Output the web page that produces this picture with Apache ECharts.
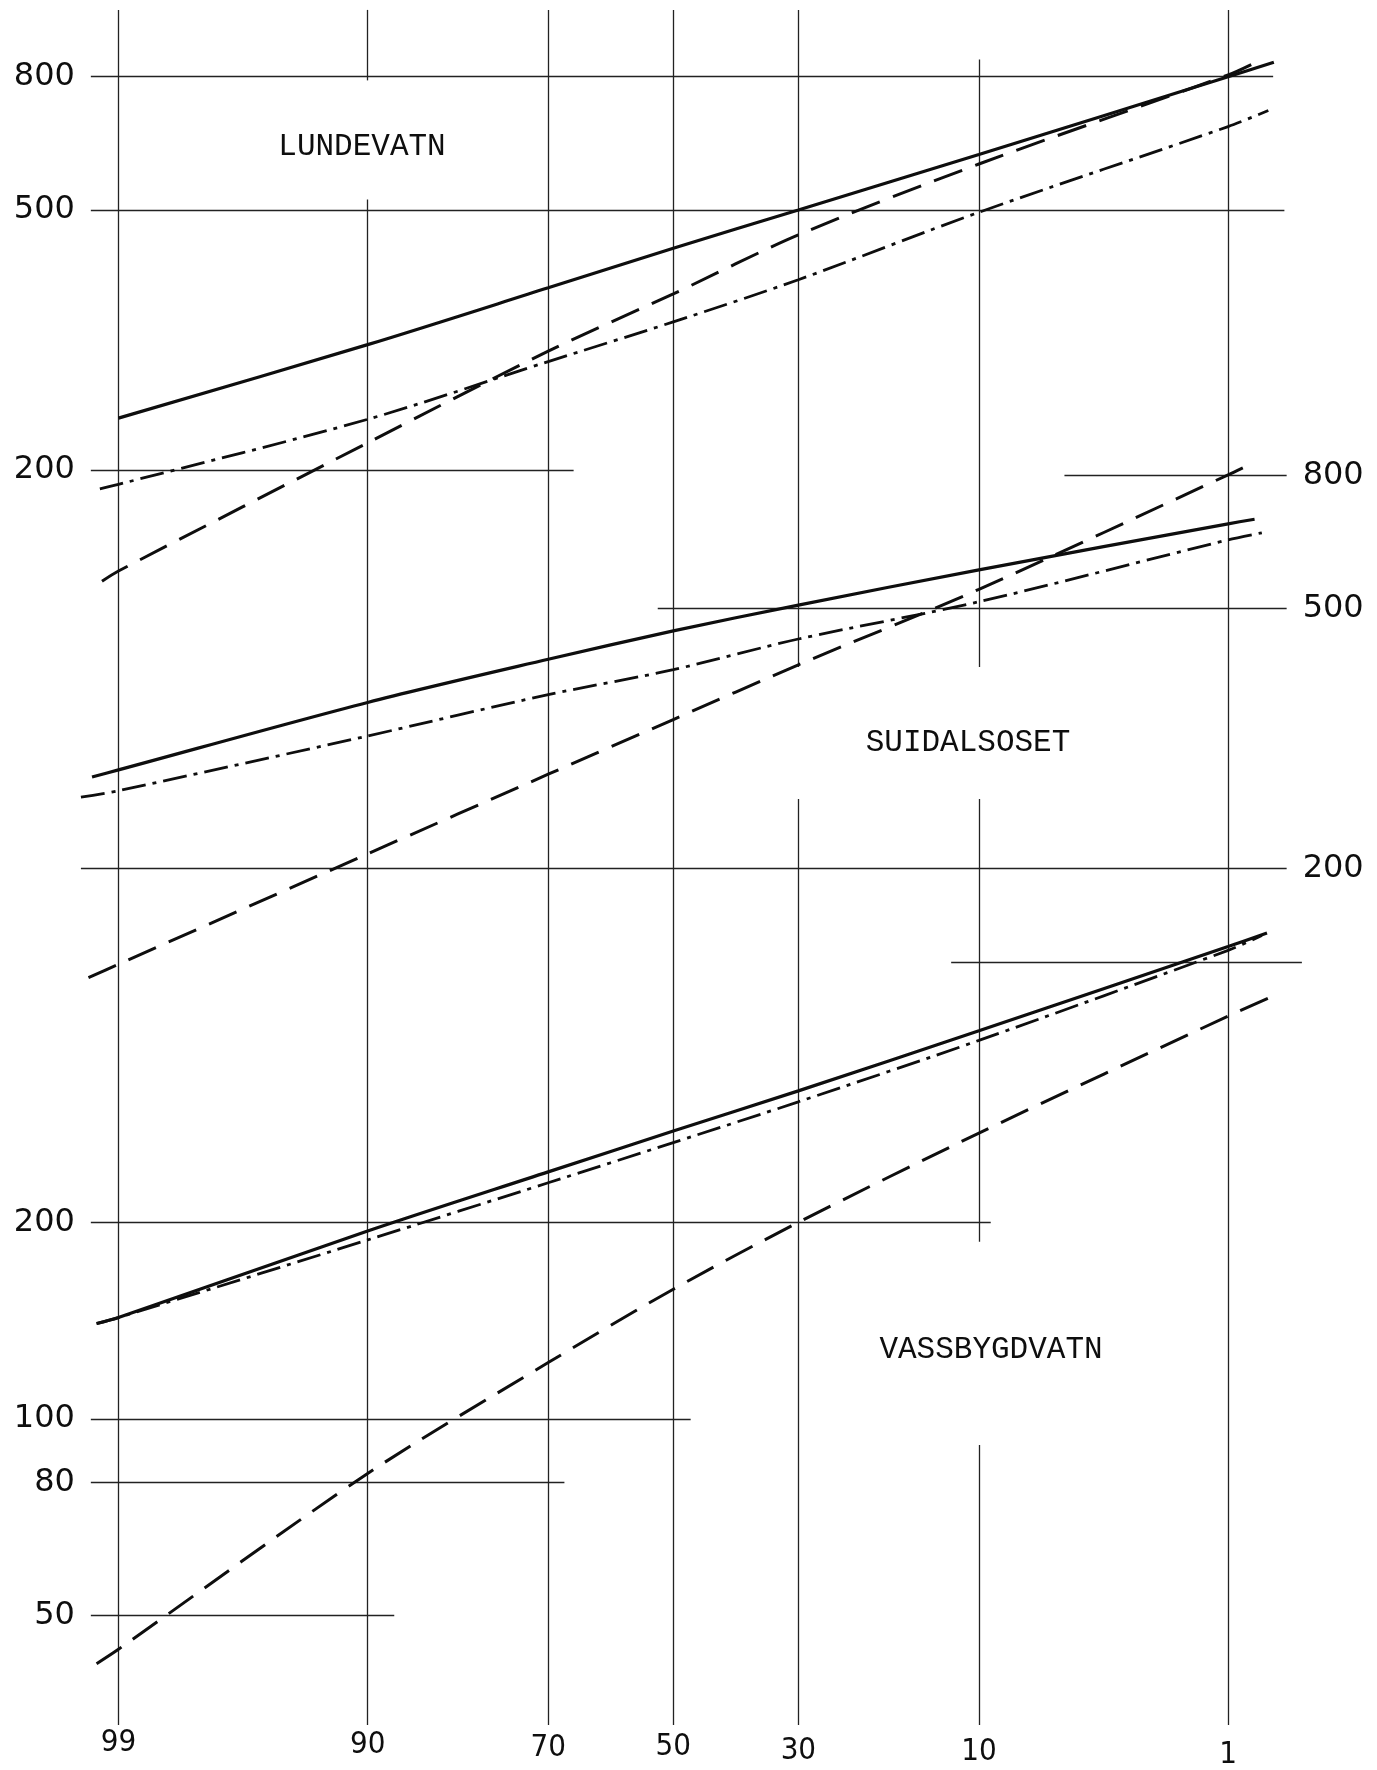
<!DOCTYPE html>
<html><head><meta charset="utf-8">
<script src="https://cdn.jsdelivr.net/npm/echarts@6/dist/echarts.min.js"></script>
<style>html,body{margin:0;padding:0;background:#fff}#c{width:1377px;height:1770px}</style>
</head><body><div id="c"></div>
<script>
// ================= DATA =================
// exceedance probability (%) tick marks on the probability axis
const xTickPct = [99, 90, 70, 50, 30, 10, 1];
const xTickLabels = ['99', '90', '70', '50', '30', '10', '1'];

// LUNDEVATN
const lundSolidPct = [99, 90, 70, 50, 30, 10, 1, 0.59];
const lundSolidVal = [240, 311, 380, 437, 500, 608, 800, 842];
const lundDashPct  = [99.17, 99, 90, 70, 50, 30, 10, 1, 0.71];
const lundDashVal  = [135, 140, 220, 304, 372, 458, 588, 805, 845];
const lundDotPct   = [99.19, 99, 90, 70, 50, 30, 10, 1, 0.63];
const lundDotVal   = [187, 190, 239, 293, 337, 391, 496, 671, 710];

// SUIDALSOSET
const suiSolidPct = [99.26, 99, 90, 70, 50, 30, 10, 1, 0.74];
const suiSolidVal = [276, 283, 359, 418, 462, 506, 573, 674, 685];
const suiDashPct  = [99.29, 99, 90, 70, 50, 30, 10, 1, 0.75];
const suiDashVal  = [136, 142.6, 210.5, 278.7, 338, 410, 535, 801, 836];
const suiDotPct   = [99.35, 99, 90, 70, 50, 30, 10, 1, 0.68];
const suiDotVal   = [257, 263, 319, 369, 403, 449, 512, 637, 653];

// VASSBYGDVATN
const vasSolidPct = [99.22, 99, 90, 70, 50, 30, 10, 1, 0.64];
const vasSolidVal = [140, 143, 194, 239, 276, 318, 393, 529, 555];
const vasDashPct  = [99.22, 99, 90, 70, 50, 30, 10, 1, 0.56];
const vasDashVal  = [42.2, 44.4, 82.5, 122, 158, 200, 274, 414, 448];
const vasDotPct   = [99.22, 99, 90, 70, 50, 30, 10, 1, 0.68];
const vasDotVal   = [140, 143, 188, 230, 265, 306, 380, 522, 550];

// y tick values of each panel
const lundTickVals = [800, 500, 200];
const suiTickVals  = [800, 500, 200];
const vasTickVals  = [500, 200, 100, 80, 50];
const vasTickShown = [false, true, true, true, true];

const panelNames = ['LUNDEVATN', 'SUIDALSOSET', 'VASSBYGDVATN'];

// ================= LAYOUT / STYLE =================
const W = 1377, H = 1770;
const L = { left: 80, rightEdge: 1310, top: 10, bottomEdge: 1740, cx: 673.3, pxPerZ: 238.5, pxPerDec: 653, frameH: 1738 };
const anchors = [ { ref: 800, y: 76.7 }, { ref: 800, y: 475.2 }, { ref: 200, y: 1222.4 } ];
// horizontal grid line extents, as exceedance % [from, to]
const lundSpans = [[99.27, 0.595], [99.27, 0.52], [99.27, 66.2]];
const suiSpans  = [[5.05, 0.506], [52.6, 0.506], [99.35, 0.506]];
const vasSpans  = [[12.2, 0.42], [99.27, 9.16], [99.27, 47.1], [99.27, 67.6], [99.27, 87.9]];
// vertical line pieces (frame pixel rows) for each tick
const vertPieces = [
  [[10, 1738]],
  [[10, 81], [201, 1738]],
  [[10, 1738]],
  [[10, 1738]],
  [[10, 672], [805, 1738]],
  [[60, 672], [805, 1251], [1456, 1738]],
  [[10, 1738]]
];
const labelDrop = [0, 2, 5, 4, 8, 9, 12];
const titlePos = [[362, 147], [968, 743], [991, 1350]];

const INK = '#0e0e0e';
const GRID_INK = '#222';

// inverse normal CDF (Acklam) – probability paper transform
function probit(p) {
  const a = [-3.969683028665376e+01, 2.209460984245205e+02, -2.759285104469687e+02, 1.383577518672690e+02, -3.066479806614716e+01, 2.506628277459239e+00];
  const b = [-5.447609879822406e+01, 1.615858368580409e+02, -1.556989798598866e+02, 6.680131188771972e+01, -1.328068155288572e+01];
  const c = [-7.784894002430293e-03, -3.223964580411365e-01, -2.400758277161838e+00, -2.549732539343734e+00, 4.374664141464968e+00, 2.938163982698783e+00];
  const d = [7.784695709041462e-03, 3.224671290700398e-01, 2.445134137142996e+00, 3.754408661907416e+00];
  const pl = 0.02425, ph = 1 - pl;
  let q, r;
  if (p < pl) { q = Math.sqrt(-2 * Math.log(p)); return (((((c[0]*q+c[1])*q+c[2])*q+c[3])*q+c[4])*q+c[5]) / ((((d[0]*q+d[1])*q+d[2])*q+d[3])*q+1); }
  if (p <= ph) { q = p - 0.5; r = q*q; return (((((a[0]*r+a[1])*r+a[2])*r+a[3])*r+a[4])*r+a[5])*q / (((((b[0]*r+b[1])*r+b[2])*r+b[3])*r+b[4])*r+1); }
  q = Math.sqrt(-2 * Math.log(1 - p)); return -(((((c[0]*q+c[1])*q+c[2])*q+c[3])*q+c[4])*q+c[5]) / ((((d[0]*q+d[1])*q+d[2])*q+d[3])*q+1);
}
const zOf = pct => probit(1 - pct / 100);
const pairs = (pcts, vals) => pcts.map((p, i) => [zOf(p), vals[i]]);

const zMin = (L.left - L.cx) / L.pxPerZ;
const zMax = (L.rightEdge - L.cx) / L.pxPerZ;
const gridH = L.bottomEdge - L.top;

const grids = [0, 1, 2].map(() => ({ left: L.left, right: W - L.rightEdge, top: L.top, height: gridH }));
grids.push({ left: L.left, right: W - L.rightEdge, top: 0, height: L.frameH });

const xAxes = [0, 1, 2].map(i => ({ type: 'value', gridIndex: i, min: zMin, max: zMax, show: false }));
const tickZ = xTickPct.map(zOf);
const rich = {};
labelDrop.forEach((d, i) => { rich['s' + i] = { fontSize: 31, fontFamily: "'Liberation Sans Narrow','DejaVu Sans Condensed',sans-serif", color: INK, padding: [d, 0, 0, 0] }; });
xAxes.push({
  type: 'value', gridIndex: 3, min: zMin, max: zMax,
  axisLine: { show: false }, axisTick: { show: false }, splitLine: { show: false },
  axisLabel: {
    show: true, margin: 2, customValues: tickZ, rich: rich, verticalAlign: 'top',
    formatter: v => { const i = tickZ.findIndex(t => Math.abs(t - v) < 1e-6); return i < 0 ? '' : '{s' + i + '|' + xTickLabels[i] + '}'; }
  }
});

const yAxes = anchors.map((a, i) => {
  const logMax = Math.log10(a.ref) + (a.y - L.top) / L.pxPerDec;
  const logMin = logMax - gridH / L.pxPerDec;
  return { type: 'log', logBase: 10, gridIndex: i, min: Math.pow(10, logMin), max: Math.pow(10, logMax), show: false };
});
yAxes.push({ type: 'value', gridIndex: 3, min: 0, max: L.frameH, inverse: true, show: false });

const solidStyle = { color: INK, width: 3.2, type: 'solid' };
const dashStyle = { color: INK, width: 3.0, type: [30, 14] };
const dotStyle = { color: INK, width: 2.8, type: [24, 7, 4, 7] };

function hLines(ticks, spans, shown, side) {
  return {
    silent: true, symbol: ['none', 'none'], animation: false,
    lineStyle: { color: GRID_INK, width: 1.3, type: 'solid' },
    label: { show: true, position: side, formatter: '{b}', distance: 16, color: INK, fontSize: 32, fontFamily: "'DejaVu Sans',sans-serif" },
    emphasis: { disabled: true },
    data: ticks.map((v, i) => [
      { name: (shown ? shown[i] : true) ? String(v) : '', coord: [zOf(spans[i][0]), v] },
      { coord: [zOf(spans[i][1]), v] }
    ])
  };
}

function lineSeries(idx, data, style, markLine) {
  const s = { type: 'line', xAxisIndex: idx, yAxisIndex: idx, data: data, showSymbol: false, symbol: 'none',
    smooth: 0.3, lineStyle: style, silent: true, animation: false, z: 5 };
  if (markLine) s.markLine = markLine;
  return s;
}

const vertData = [];
vertPieces.forEach((pieces, i) => pieces.forEach(pc => {
  vertData.push([{ coord: [tickZ[i], pc[0]] }, { coord: [tickZ[i], pc[1]] }]);
}));

const series = [
  lineSeries(0, pairs(lundSolidPct, lundSolidVal), solidStyle, hLines(lundTickVals, lundSpans, null, 'start')),
  lineSeries(0, pairs(lundDashPct, lundDashVal), dashStyle),
  lineSeries(0, pairs(lundDotPct, lundDotVal), dotStyle),
  lineSeries(1, pairs(suiSolidPct, suiSolidVal), solidStyle, hLines(suiTickVals, suiSpans, null, 'end')),
  lineSeries(1, pairs(suiDashPct, suiDashVal), dashStyle),
  lineSeries(1, pairs(suiDotPct, suiDotVal), dotStyle),
  lineSeries(2, pairs(vasSolidPct, vasSolidVal), solidStyle, hLines(vasTickVals, vasSpans, vasTickShown, 'start')),
  lineSeries(2, pairs(vasDashPct, vasDashVal), dashStyle),
  lineSeries(2, pairs(vasDotPct, vasDotVal), dotStyle),
  { type: 'line', xAxisIndex: 3, yAxisIndex: 3, data: [], silent: true, animation: false,
    markLine: { silent: true, symbol: ['none', 'none'], animation: false, label: { show: false },
      lineStyle: { color: GRID_INK, width: 1.3, type: 'solid' }, emphasis: { disabled: true }, data: vertData } }
];

const chart = echarts.init(document.getElementById('c'), null, { renderer: 'canvas' });
chart.setOption({
  backgroundColor: '#ffffff',
  animation: false,
  grid: grids, xAxis: xAxes, yAxis: yAxes, series: series,
  graphic: panelNames.map((t, i) => ({
    type: 'text', x: titlePos[i][0], y: titlePos[i][1], silent: true,
    style: { text: t, fill: INK, font: "31px 'Liberation Mono', monospace", align: 'center', verticalAlign: 'middle' }
  }))
});
</script></body></html>
